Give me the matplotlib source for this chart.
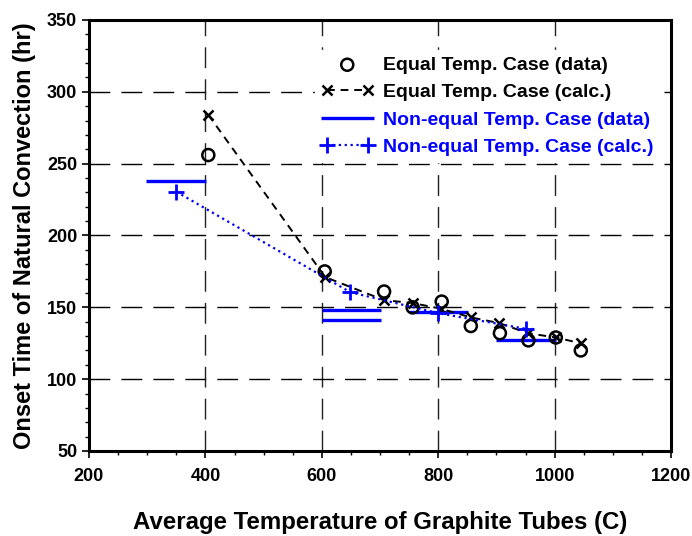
import numpy as np
import matplotlib
matplotlib.use("Agg")
import matplotlib.pyplot as plt
from matplotlib.ticker import MultipleLocator

plt.rcParams['font.family'] = 'Liberation Sans'
plt.rcParams['font.weight'] = 'bold'

# Equal temperature case, measured
eq_data_x = [405, 605, 707, 756, 806, 856, 906, 955, 1002, 1045]
eq_data_y = [256, 175, 161, 150, 154, 137, 132, 127, 129, 120]

# Equal temperature case, calculated
eq_calc_x = [405, 606, 707, 756, 805, 856, 905, 954, 1002, 1045]
eq_calc_y = [284, 171, 155, 153, 149, 143, 139, 132, 129, 125]

# Non-equal temperature case, measured (horizontal bands)
neq_data_y = [238, 148, 141, 146.5, 127]
neq_data_x0 = [298, 600, 600, 750, 900]
neq_data_x1 = [401, 702, 702, 851, 1002]

# Non-equal temperature case, calculated
neq_calc_x = [350, 649, 799, 951]
neq_calc_y = [230.5, 160.5, 146, 135]

fig = plt.figure(figsize=(6.92, 5.36), dpi=100)
ax = fig.add_axes([0.1286, 0.1586, 0.8411, 0.8041])

ax.set_xlim(200, 1200)
ax.set_ylim(50, 350)
ax.xaxis.set_major_locator(MultipleLocator(200))
ax.xaxis.set_minor_locator(MultipleLocator(50))
ax.yaxis.set_major_locator(MultipleLocator(50))
ax.yaxis.set_minor_locator(MultipleLocator(10))

for x in [400, 600, 800, 1000]:
    ax.axvline(x, color='#222222', lw=1, dashes=(15, 8), zorder=0)
for y in [100, 150, 200, 250, 300]:
    ax.axhline(y, color='black', lw=1, dashes=(15, 8), zorder=0)

h1 = ax.scatter(eq_data_x, eq_data_y, s=75, facecolors='none', edgecolors='black',
                linewidths=1.8, zorder=3, label='Equal Temp. Case (data)')
h2, = ax.plot(eq_calc_x, eq_calc_y, color='black', ls='--', dashes=(4, 3), lw=1.4,
              marker='x', ms=7, mew=1.8, zorder=3, label='Equal Temp. Case (calc.)')
h3 = ax.hlines(neq_data_y, neq_data_x0, neq_data_x1, colors='blue', lw=2.4, zorder=2,
               label='Non-equal Temp. Case (data)')
h4, = ax.plot(neq_calc_x, neq_calc_y, color='blue', ls=':', lw=1.6,
              marker='+', ms=11, mew=2, zorder=3, label='Non-equal Temp. Case (calc.)')

for s in ax.spines.values():
    s.set_linewidth(2.2)
ax.tick_params(which='major', direction='out', length=5, width=1.2, labelsize=13)
ax.tick_params(axis='x', which='major', pad=7)
ax.tick_params(which='minor', direction='out', length=3, width=1)
for lab in ax.get_xticklabels() + ax.get_yticklabels():
    lab.set_fontweight('bold')

ax.set_xlabel('Average Temperature of Graphite Tubes (C)', fontsize=17.3,
              fontweight='bold', labelpad=19)
ax.set_ylabel('Onset Time of Natural Convection (hr)', fontsize=17,
              fontweight='bold', labelpad=8)

leg = ax.legend(handles=[h1, h2, h3, h4], loc='upper right', bbox_to_anchor=(0.997, 0.952),
                frameon=True, fancybox=False, edgecolor='white', framealpha=1,
                prop={'family': 'Liberation Sans', 'weight': 'bold', 'size': 14},
                numpoints=2, scatterpoints=1, handlelength=2.7,
                handletextpad=0.5, labelspacing=0.5, borderpad=0.3)
for txt, c in zip(leg.get_texts(), ['black', 'black', 'blue', 'blue']):
    txt.set_color(c)

fig.savefig('out.png', dpi=100)
